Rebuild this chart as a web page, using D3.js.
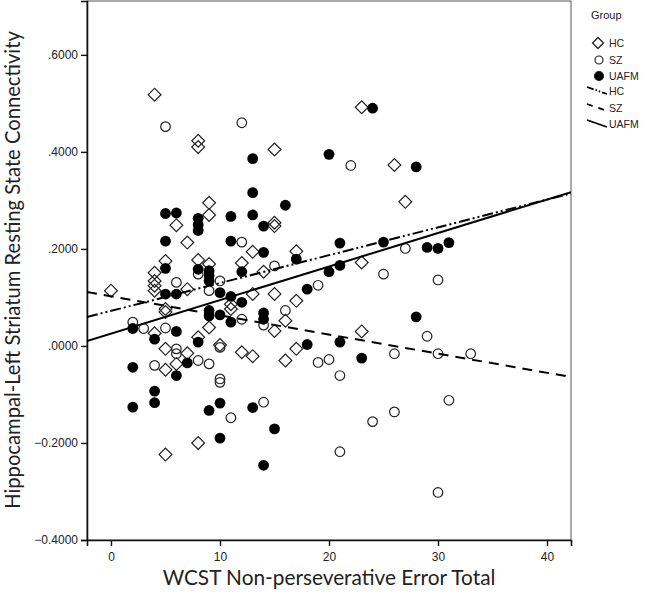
<!DOCTYPE html>
<html>
<head>
<meta charset="utf-8">
<script src="https://cdn.jsdelivr.net/npm/d3@7"></script>
<style>
  body { margin: 0; background: #fff; }
  svg { display: block; }
  .tick text { font-family: "Liberation Sans", Arial, sans-serif; font-size: 12px; fill: #222; }
  .title { font-family: Lato, "Noto Sans", sans-serif; font-size: 20.8px; fill: #222; }
  .legend text { font-family: "Liberation Sans", Arial, sans-serif; font-size: 10.5px; fill: #222; }
</style>
</head>
<body>
<div class="chart"></div>
<script>
// points: [WCST errors, connectivity]
const hcPoints = [
  [0, 0.114], [4, 0.518], [4, 0.151], [4, 0.134], [4, 0.124], [4, 0.114], [4, 0.026],
  [5, 0.175], [5, 0.076], [5, 0.070], [5, -0.006], [5, -0.049], [5, -0.224],
  [6, 0.249], [6, -0.037], [7, 0.213], [7, 0.117], [7, -0.015],
  [8, 0.423], [8, 0.410], [8, 0.177], [8, 0.018], [8, -0.200],
  [9, 0.295], [9, 0.270], [9, 0.169], [9, 0.038], [10, 0.002],
  [11, 0.086], [11, 0.076], [12, 0.171], [12, -0.013],
  [13, 0.194], [13, 0.107], [13, -0.021], [14, 0.153],
  [15, 0.405], [15, 0.254], [15, 0.247], [15, 0.107], [15, 0.031],
  [16, 0.052], [16, -0.030], [17, 0.195], [17, 0.093], [17, -0.006],
  [23, 0.492], [23, 0.172], [23, 0.030], [26, 0.373], [27, 0.297]
];
const szPoints = [
  [2, 0.049], [3, 0.036], [4, -0.040], [5, 0.452], [5, 0.037],
  [6, 0.131], [6, -0.006], [6, -0.016], [8, 0.148], [8, -0.030],
  [9, 0.114], [9, -0.037], [10, 0.134], [10, -0.003], [10, -0.068], [10, -0.075],
  [11, -0.148], [12, 0.460], [12, 0.214], [12, 0.055], [14, 0.043], [14, -0.116],
  [15, 0.165], [16, 0.073], [19, 0.125], [19, -0.034], [20, -0.028],
  [21, -0.061], [21, -0.218], [22, 0.372], [24, -0.156], [25, 0.148],
  [26, -0.016], [26, -0.136], [27, 0.201], [29, 0.020],
  [30, 0.136], [30, -0.016], [30, -0.302], [31, -0.112], [33, -0.016]
];
const uafmPoints = [
  [2, 0.036], [2, -0.044], [2, -0.126], [4, 0.014], [4, -0.093], [4, -0.117],
  [5, 0.273], [5, 0.216], [5, 0.160], [5, 0.107],
  [6, 0.274], [6, 0.107], [6, 0.030], [6, -0.061], [7, -0.035],
  [8, 0.263], [8, 0.250], [8, 0.238], [8, 0.158], [8, 0.008],
  [9, 0.155], [9, 0.145], [9, 0.134], [9, 0.073], [9, 0.062], [9, -0.133],
  [10, 0.110], [10, 0.064], [10, -0.118], [10, -0.190],
  [11, 0.267], [11, 0.216], [11, 0.102], [11, 0.049], [12, 0.153], [12, 0.090],
  [13, 0.386], [13, 0.316], [13, 0.270], [13, -0.127],
  [14, 0.247], [14, 0.193], [14, 0.068], [14, 0.055], [14, -0.246],
  [15, -0.171], [16, 0.290], [17, 0.179], [18, 0.117], [18, 0.003],
  [20, 0.395], [20, 0.153], [21, 0.212], [21, 0.166], [21, 0.008],
  [23, -0.025], [24, 0.490], [25, 0.214], [28, 0.369], [28, 0.060],
  [29, 0.203], [30, 0.201], [31, 0.213]
];

// fit lines, end values at the left and right edge of the plot
const fitGroups = ['HC', 'SZ', 'UAFM'];
const fitX = [-2.2, 42.2];
const fitStart = [0.0596, 0.111, 0.0103];
const fitEnd = [0.3145, -0.064, 0.317];

const xTicks = [0, 10, 20, 30, 40];
const yTicks = [-0.4, -0.2, 0, 0.2, 0.4, 0.6];

const width = 649, height = 595;
const plot = {left: 87, right: 571, top: 1, bottom: 540};

const x = d3.scaleLinear().domain([-2.2, 42.2]).range([plot.left, plot.right]);
const y = d3.scaleLinear().domain([-0.4, 0.711]).range([plot.bottom, plot.top]);

const svg = d3.select('.chart').append('svg')
    .attr('width', width)
    .attr('height', height);

// plot frame
svg.append('rect')
    .attr('x', plot.left)
    .attr('y', plot.top)
    .attr('width', plot.right - plot.left)
    .attr('height', plot.bottom - plot.top)
    .style('fill', 'none')
    .style('stroke', '#555')
    .style('stroke-width', 1);

const yFmt = v => d3.format('.4f')(v).replace(/^(-?)0\./, '$1.');

const xAxis = d3.axisBottom(x).tickValues(xTicks).tickSize(6).tickPadding(6);
const yAxis = d3.axisLeft(y).tickValues(yTicks).tickSize(6).tickPadding(3).tickFormat(yFmt);

const gX = svg.append('g')
    .attr('transform', `translate(0, ${plot.bottom})`)
    .call(xAxis);
const gY = svg.append('g')
    .attr('transform', `translate(${plot.left}, 0)`)
    .call(yAxis);
[gX, gY].forEach(g => {
  g.select('.domain').style('stroke', '#111').style('stroke-width', 1.6);
  g.selectAll('.tick line').style('stroke', '#111').style('stroke-width', 1.4);
});

svg.append('text')
    .attr('class', 'title')
    .attr('text-anchor', 'middle')
    .attr('transform', `translate(${(plot.left + plot.right) / 2}, 585)`)
    .text('WCST Non-perseverative Error Total');

svg.append('text')
    .attr('class', 'title')
    .attr('text-anchor', 'middle')
    .style('font-size', '20.2px')
    .attr('transform', `translate(20, ${270}) rotate(-90)`)
    .text('Hippocampal-Left Striatum Resting State Connectivity');

const inner = svg.append('g');

// markers
const diamond = d3.symbol(d3.symbolSquare, 82);

inner.selectAll('.hc')
  .data(hcPoints)
  .enter().append('path')
    .attr('class', 'hc')
    .attr('d', diamond)
    .attr('transform', d => `translate(${x(d[0])}, ${y(d[1])}) rotate(45)`)
    .style('fill', 'none')
    .style('stroke', '#222')
    .style('stroke-width', 1.2);

inner.selectAll('.sz')
  .data(szPoints)
  .enter().append('circle')
    .attr('class', 'sz')
    .attr('cx', d => x(d[0]))
    .attr('cy', d => y(d[1]))
    .attr('r', 4.8)
    .style('fill', 'none')
    .style('stroke', '#222')
    .style('stroke-width', 1.2);

inner.selectAll('.uafm')
  .data(uafmPoints)
  .enter().append('circle')
    .attr('class', 'uafm')
    .attr('cx', d => x(d[0]))
    .attr('cy', d => y(d[1]))
    .attr('r', 5.4)
    .style('fill', '#000');

// fit lines
const dashes = {HC: '11,3,2,3,2,3', SZ: '10,7', UAFM: null};
const fits = fitGroups.map((g, i) => ({
  group: g,
  pts: [[fitX[0], fitStart[i]], [fitX[1], fitEnd[i]]]
}));
const line = d3.line().x(d => x(d[0])).y(d => y(d[1]));

svg.append('clipPath').attr('id', 'clip')
  .append('rect')
    .attr('x', plot.left).attr('y', plot.top)
    .attr('width', plot.right - plot.left).attr('height', plot.bottom - plot.top);

inner.append('g')
    .attr('clip-path', 'url(#clip)')
  .selectAll('.fit')
  .data(fits)
  .enter().append('path')
    .attr('class', 'fit')
    .attr('d', d => line(d.pts))
    .style('fill', 'none')
    .style('stroke', '#000')
    .style('stroke-width', 2)
    .style('stroke-dasharray', d => dashes[d.group]);

// legend
const legend = svg.append('g').attr('class', 'legend');
legend.append('text')
    .attr('x', 591).attr('y', 19)
    .style('font-size', '11px')
    .text('Group');

const markerRows = [
  {label: 'HC', y: 43},
  {label: 'SZ', y: 60},
  {label: 'UAFM', y: 76}
];
markerRows.forEach(r => {
  if (r.label === 'HC') {
    legend.append('path')
        .attr('d', d3.symbol(d3.symbolSquare, 60))
        .attr('transform', `translate(598, ${r.y}) rotate(45)`)
        .style('fill', 'none').style('stroke', '#222').style('stroke-width', 1.3);
  } else {
    legend.append('circle')
        .attr('cx', 599).attr('cy', r.y).attr('r', r.label === 'SZ' ? 4 : 4.5)
        .style('fill', r.label === 'SZ' ? 'none' : '#000')
        .style('stroke', '#222').style('stroke-width', 1.2);
  }
  legend.append('text')
      .attr('x', 609).attr('y', r.y + 4)
      .text(r.label);
});

const lineRows = [
  {label: 'HC', y: 90},
  {label: 'SZ', y: 107},
  {label: 'UAFM', y: 123}
];
const legendDash = {HC: '7,2,1.5,2,1.5,2', SZ: '6,6', UAFM: null};
lineRows.forEach(r => {
  legend.append('line')
      .attr('x1', 587).attr('y1', r.y - 3)
      .attr('x2', 607).attr('y2', r.y + 4)
      .style('stroke', '#000').style('stroke-width', 1.8)
      .style('stroke-dasharray', legendDash[r.label]);
  legend.append('text')
      .attr('x', 609).attr('y', r.y + 5)
      .text(r.label);
});
</script>
</body>
</html>
